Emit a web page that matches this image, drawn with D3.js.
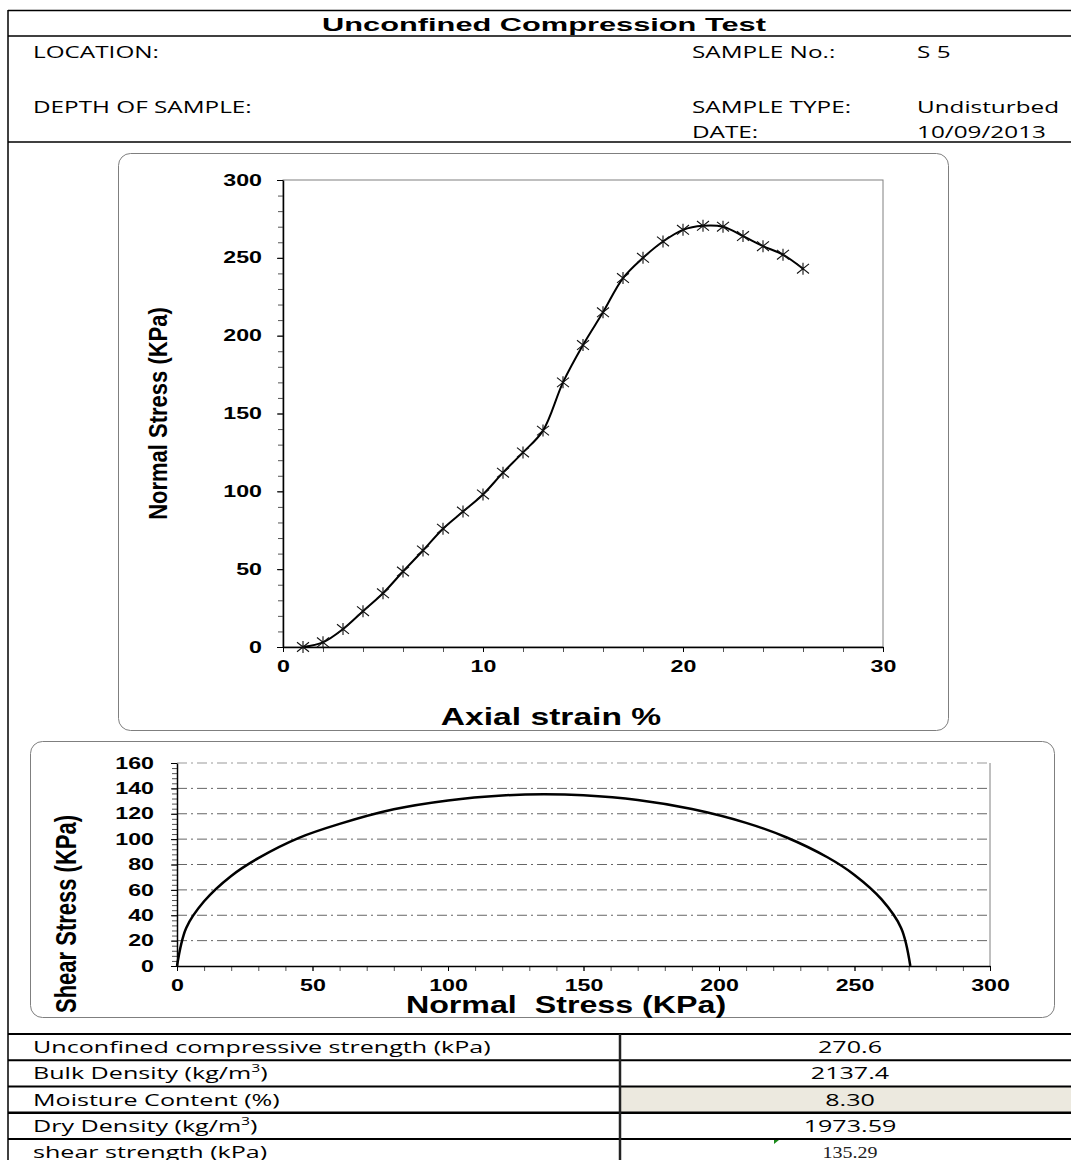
<!DOCTYPE html>
<html><head><meta charset="utf-8">
<script src="https://cdn.jsdelivr.net/npm/d3@7"></script>
<style>body{margin:0;background:#fff;} svg{display:block;} text{white-space:pre;}</style>
</head><body>
<svg id="c" width="1071" height="1160"></svg>
<script>
// ---------------- DATA ----------------
const strain = [1,2,3,4,5,6,7,8,9,10,11,12,13,14,15,16,17,18,19,20,21,22,23,24,25,26];
const stress = [0,3,11.5,23,34.5,48.5,62,76,87,98,112,125,139,170,194,215,237,250,260.5,268,270.6,270,264,257.5,252,243];
const normalStress = [0,3.4,10,20,30,45,60,80,100,120,135.3,150,170,190,210,225,240,250,260,267.2,270.6];
const shearStress  = [0,30,51,71,85,101,112,123.5,130.5,134.4,135.3,134.5,130.8,123.7,112.8,101.3,85.7,71.8,52.5,30,0];
const strainTicks = [0,10,20,30];
const stressTicks = [0,50,100,150,200,250,300];
const normalTicks = [0,50,100,150,200,250,300];
const shearTicks = [0,20,40,60,80,100,120,140,160];
const title = "Unconfined Compression Test";
const headerLabels = ["LOCATION:","DEPTH OF SAMPLE:"];
const headerRightLabels = ["SAMPLE No.:","SAMPLE TYPE:","DATE:"];
const headerRightValues = ["S 5","Undisturbed","10/09/2013"];
const tableLabels = ["Unconfined compressive strength (kPa)","Bulk Density (kg/m3)","Moisture Content (%)","Dry Density (kg/m3)","shear strength (kPa)"];
const tableValues = ["270.6","2137.4","8.30","1973.59","135.29"];

(function(){
// ---------------- HELPERS ----------------
const svg = d3.select('#c');
const ARIAL = "'Liberation Sans', Arial, sans-serif";
const CAL = "'Open Sans', 'Noto Sans', sans-serif";
function natural(str, size, family, weight){
  const t = svg.append('text').attr('font-size',size).attr('font-family',family).attr('font-weight',weight).text(str);
  const w = t.node().getComputedTextLength(); t.remove(); return w;
}
function stext(parent, x, y, str, o){
  o = Object.assign({size:16,family:CAL,weight:'normal',anchor:'start',sx:1,rot:0,fill:'#000'}, o||{});
  const g = parent.append('g').attr('transform', `translate(${x},${y}) scale(${o.sx},1)` + (o.rot?` rotate(${o.rot})`:''));
  return g.append('text').attr('text-anchor',o.anchor).attr('font-size',o.size).attr('font-family',o.family)
    .attr('font-weight',o.weight).attr('fill',o.fill).text(str);
}

// ---------------- HEADER ----------------
const hdr = svg.append('g');
hdr.append('line').attr('x1',8).attr('x2',1071).attr('y1',10.5).attr('y2',10.5).attr('stroke','#000').attr('stroke-width',1.5);
hdr.append('line').attr('x1',8).attr('x2',1071).attr('y1',36).attr('y2',36).attr('stroke','#000').attr('stroke-width',1.5);
hdr.append('line').attr('x1',8).attr('x2',1071).attr('y1',142).attr('y2',142).attr('stroke','#000').attr('stroke-width',1.5);
hdr.append('line').attr('x1',8).attr('x2',8).attr('y1',10).attr('y2',1160).attr('stroke','#000').attr('stroke-width',1.5);

const titleSx = 444 / natural(title,19,ARIAL,'bold');
stext(hdr, 544, 30.5, title, {size:19,family:ARIAL,weight:'bold',anchor:'middle',sx:titleSx});

const calSx = 126 / natural("LOCATION:",16,CAL,'normal');
const rowY = [57.5,112.5,137.5];
stext(hdr, 33, rowY[0], headerLabels[0], {sx:calSx});
stext(hdr, 33, rowY[1], headerLabels[1], {sx:calSx});
headerRightLabels.forEach((s,i)=> stext(hdr, 692, rowY[i], s, {sx:calSx}));
headerRightValues.forEach((s,i)=> stext(hdr, 917, rowY[i], s, {sx:calSx}));

// ---------------- TOP CHART ----------------
const TICKSX = 1.45;
const tc = svg.append('g');
tc.append('rect').attr('x',118.5).attr('y',153.5).attr('width',830).attr('height',577).attr('rx',12)
  .attr('fill','#fff').attr('stroke','#7f7f7f').attr('stroke-width',1);
const x1 = d3.scaleLinear().domain([0,30]).range([283,883]);
const y1 = d3.scaleLinear().domain([0,300]).range([647,180]);
tc.append('rect').attr('x',283).attr('y',180).attr('width',600).attr('height',467).attr('fill','none').attr('stroke','#808080').attr('stroke-width',1);

tc.append('g').attr('transform','translate(283,0)')
  .call(d3.axisLeft(y1).tickValues(d3.range(0,301,10)).tickSize(5).tickFormat(''))
  .call(g=>{g.select('.domain').remove(); g.selectAll('line').attr('stroke','#555');});
tc.append('g').attr('transform','translate(0,647)')
  .call(d3.axisBottom(x1).tickValues(d3.range(0,31,2)).tickSize(5).tickFormat(''))
  .call(g=>{g.select('.domain').remove(); g.selectAll('line').attr('stroke','#555');});
tc.append('g').attr('transform','translate(283,0)')
  .call(d3.axisLeft(y1).tickValues(stressTicks).tickSize(6).tickSizeOuter(0).tickPadding(15))
  .call(g=>{
    g.select('.domain').attr('stroke','#000').attr('stroke-width',1.5);
    g.selectAll('text').attr('font-family',ARIAL).attr('font-weight','bold').attr('font-size',16).attr('fill','#000')
      .attr('x',-21/TICKSX).attr('transform',`scale(${TICKSX},1)`);
  });
tc.append('g').attr('transform','translate(0,647)')
  .call(d3.axisBottom(x1).tickValues(strainTicks).tickSize(5).tickSizeOuter(0).tickPadding(9))
  .call(g=>{
    g.select('.domain').attr('stroke','#000').attr('stroke-width',1.5);
    g.selectAll('text').attr('font-family',ARIAL).attr('font-weight','bold').attr('font-size',16).attr('fill','#000')
      .attr('transform',`scale(${TICKSX},1)`);
  });

const pts1 = strain.map((s,i)=>[s,stress[i]]);
tc.append('path').datum(pts1).attr('fill','none').attr('stroke','#000').attr('stroke-width',2)
  .attr('d', d3.line().x(d=>x1(d[0])).y(d=>y1(d[1])).curve(d3.curveCatmullRom.alpha(0.5)));
const mk = tc.append('g').attr('stroke','#111').attr('stroke-width',1.1);
pts1.forEach(d=>{
  const cx = x1(d[0]), cy = y1(d[1]), s = 6;
  mk.append('path').attr('d',`M${cx-s},${cy-s*0.8}L${cx+s},${cy+s*0.8}M${cx-s},${cy+s*0.8}L${cx+s},${cy-s*0.8}M${cx},${cy-s}L${cx},${cy+s}`);
});

stext(tc, 158, 413.5, "Normal Stress (KPa)", {size:22,family:ARIAL,weight:'bold',anchor:'middle',rot:-90,sx:1.18}).attr('dy','0.35em');
stext(tc, 551, 725, "Axial strain %", {size:23.5,family:ARIAL,weight:'bold',anchor:'middle',sx:1.43});

// ---------------- BOTTOM CHART ----------------
const bot = svg.append('g');
bot.append('rect').attr('x',30.5).attr('y',741.5).attr('width',1024).attr('height',276).attr('rx',12)
  .attr('fill','#fff').attr('stroke','#7f7f7f').attr('stroke-width',1);
const x2 = d3.scaleLinear().domain([0,300]).range([177,990]);
const y2 = d3.scaleLinear().domain([0,160]).range([966,763]);
bot.append('g').selectAll('line').data(shearTicks.filter(v=>v>0)).join('line')
  .attr('x1',x2(0)).attr('x2',x2(300)).attr('y1',d=>y2(d)).attr('y2',d=>y2(d))
  .attr('stroke',d=>d===160?'#999':'#666').attr('stroke-width',1).attr('stroke-dasharray','10,4,2,4');
bot.append('line').attr('x1',x2(300)).attr('x2',x2(300)).attr('y1',y2(160)).attr('y2',y2(0)).attr('stroke','#808080');
bot.append('g').attr('transform',`translate(${x2(0)},0)`)
  .call(d3.axisLeft(y2).tickValues(d3.range(0,161,4)).tickSize(5).tickFormat(''))
  .call(g=>{g.select('.domain').remove(); g.selectAll('line').attr('stroke','#555');});
bot.append('g').attr('transform',`translate(0,${y2(0)})`)
  .call(d3.axisBottom(x2).tickValues(d3.range(0,301,10)).tickSize(5).tickFormat(''))
  .call(g=>{g.select('.domain').remove(); g.selectAll('line').attr('stroke','#555');});
bot.append('g').attr('transform',`translate(${x2(0)},0)`)
  .call(d3.axisLeft(y2).tickValues(shearTicks).tickSize(6).tickSizeOuter(0).tickPadding(17))
  .call(g=>{
    g.select('.domain').attr('stroke','#000').attr('stroke-width',1.5);
    g.selectAll('text').attr('font-family',ARIAL).attr('font-weight','bold').attr('font-size',16).attr('fill','#000')
      .attr('x',-23/TICKSX).attr('transform',`scale(${TICKSX},1)`);
  });
bot.append('g').attr('transform',`translate(0,${y2(0)})`)
  .call(d3.axisBottom(x2).tickValues(normalTicks).tickSize(5).tickSizeOuter(0).tickPadding(9))
  .call(g=>{
    g.select('.domain').attr('stroke','#000').attr('stroke-width',1.5);
    g.selectAll('text').attr('font-family',ARIAL).attr('font-weight','bold').attr('font-size',16).attr('fill','#000')
      .attr('transform',`scale(${TICKSX},1)`);
  });
const pts2 = normalStress.map((v,i)=>[v,shearStress[i]]);
bot.append('path').datum(pts2).attr('fill','none').attr('stroke','#000').attr('stroke-width',2.5)
  .attr('d', d3.line().x(d=>x2(d[0])).y(d=>y2(d[1])).curve(d3.curveCatmullRom.alpha(0.5)));

stext(bot, 66, 914, "Shear Stress (KPa)", {size:22,family:ARIAL,weight:'bold',anchor:'middle',rot:-90,sx:1.3}).attr('dy','0.35em');
stext(bot, 566, 1013, "Normal  Stress (KPa)", {size:23,family:ARIAL,weight:'bold',anchor:'middle',sx:1.4});

// ---------------- TABLE ----------------
const tb = svg.append('g');
const rowH = 26.25, tTop = 1034;
tb.append('rect').attr('x',620).attr('y',tTop+2*rowH).attr('width',451).attr('height',rowH).attr('fill','#ECE9DF');
d3.range(0,5).forEach(i=>{
  tb.append('line').attr('x1',8).attr('x2',1071).attr('y1',tTop+i*rowH).attr('y2',tTop+i*rowH)
    .attr('stroke','#000').attr('stroke-width', i===3?2.5:1.8);
});
tb.append('line').attr('x1',620).attr('x2',620).attr('y1',tTop).attr('y2',1160).attr('stroke','#222').attr('stroke-width',2.5);
// small green cell indicator
tb.append('path').attr('d',`M774,${tTop+4*rowH+1}l5,0l-5,4z`).attr('fill','#1a8a1a');
const tabSx = 458 / natural(tableLabels[0],16,CAL,'normal');
tableLabels.forEach((s,i)=>{
  const yb = tTop + i*rowH + 19;
  const m = s.match(/^(.*)m3\)$/);
  if(m){
    const t = stext(tb, 33, yb, '', {sx:tabSx});
    t.append('tspan').text(m[1]+'m');
    t.append('tspan').attr('font-size',10).attr('dy',-7).text('3');
    t.append('tspan').attr('dy',7).text(')');
  } else {
    stext(tb, 33, yb, s, {sx:tabSx});
  }
});
tableValues.forEach((s,i)=>{
  const yb = tTop + i*rowH + 19;
  if(i===4) stext(tb, 850, yb, s, {sx:1.25, anchor:'middle', family:"'Liberation Serif', serif", size:16, fill:'#222'});
  else stext(tb, 850, yb, s, {sx:tabSx, anchor:'middle'});
});
})();
</script>
</body></html>
